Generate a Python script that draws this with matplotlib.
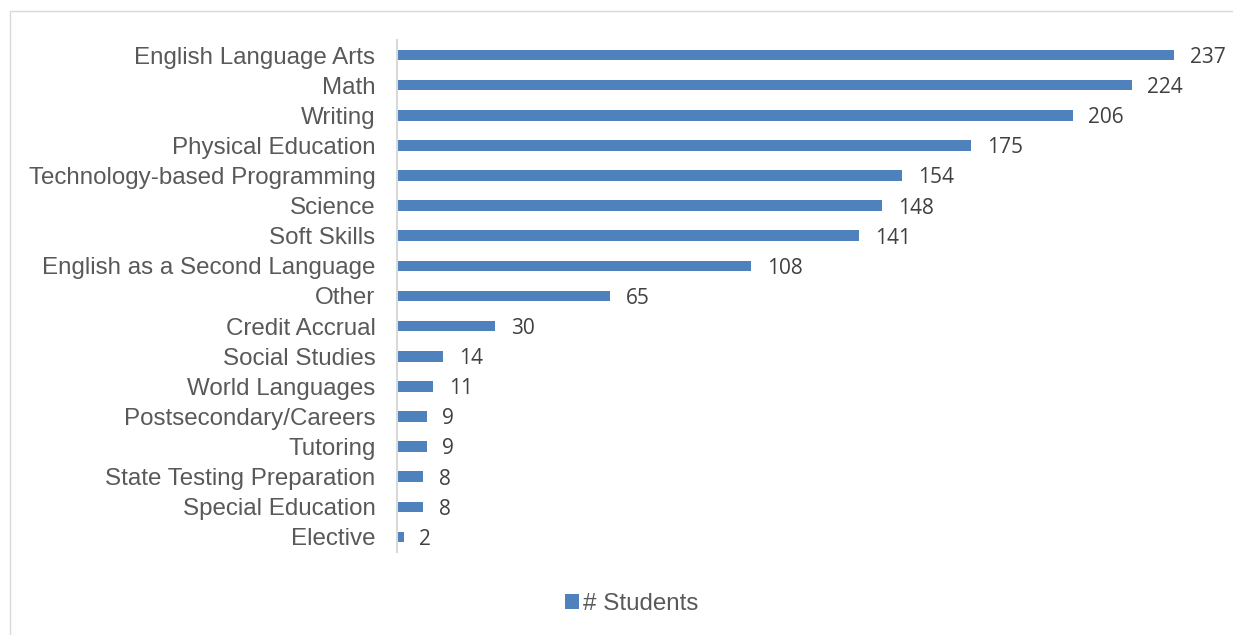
import matplotlib
matplotlib.use("Agg")
import matplotlib.pyplot as plt
from matplotlib.patches import Rectangle

# courses offered and number of students in each
courses = [
    "English Language Arts", "Math", "Writing", "Physical Education",
    "Technology-based Programming", "Science", "Soft Skills",
    "English as a Second Language", "Other", "Credit Accrual",
    "Social Studies", "World Languages", "Postsecondary/Careers",
    "Tutoring", "State Testing Preparation", "Special Education", "Elective",
]
students = [237, 224, 206, 175, 154, 148, 141, 108, 65, 30, 14, 11, 9, 9, 8, 8, 2]

bar_color = "#4F81BD"
text_grey = "#595959"

fig = plt.figure(figsize=(12.33, 6.35), dpi=100)

# light frame round the chart area
fig.patches.append(Rectangle((10 / 1233, -0.05), 1.2, 1 - 11 / 635 + 0.05,
                             transform=fig.transFigure, fill=False,
                             edgecolor="#D9D9D9", linewidth=1.0))

ax = fig.add_axes([397 / 1233, 1 - 552 / 635, 820 / 1233, 512 / 635])

pos = list(range(len(courses)))
bars = ax.barh(pos, students, height=0.35, color=bar_color, label="# Students")

ax.set_ylim(len(courses) - 0.5, -0.5)
ax.set_xlim(0, 250)
ax.set_yticks(pos)
ax.set_yticklabels(courses, fontsize=17.4, color=text_grey,
                   family=["Liberation Sans", "DejaVu Sans"])
for lbl in ax.get_yticklabels():
    lbl.set_va("center_baseline")
ax.tick_params(axis="y", length=0, pad=15.5)
ax.set_xticks([])

for side in ["top", "right", "bottom"]:
    ax.spines[side].set_visible(False)
ax.spines["left"].set_color("#D9D9D9")
ax.spines["left"].set_linewidth(1.5)

for b, v in zip(bars, students):
    ax.text(b.get_width() + 4.8, b.get_y() + b.get_height() / 2 + 0.08, str(v),
            va="center", ha="left", fontsize=15, color="#404040",
            family=["Open Sans", "DejaVu Sans"])

fig.legend(handles=[bars], labels=["# Students"], loc="center",
           bbox_to_anchor=(632 / 1233, 1 - 604 / 635), frameon=False,
           handlelength=0.55, handleheight=0.55, handletextpad=0.2,
           prop={"family": "Liberation Sans", "size": 17.4}, labelcolor=text_grey)

fig.savefig("out.png", dpi=100)
